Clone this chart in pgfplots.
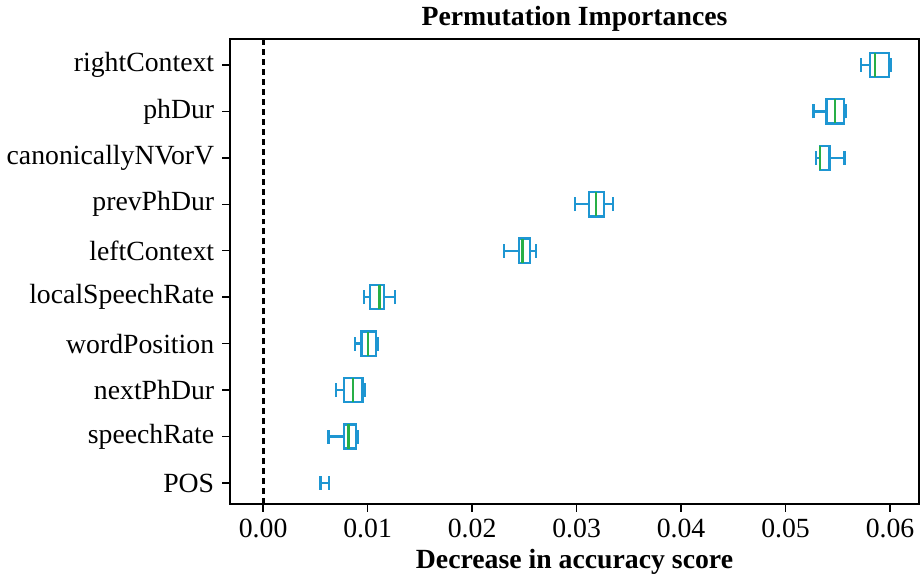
\documentclass[border=0pt]{standalone}
\usepackage{pgfplots}
\pgfplotsset{compat=1.18}
\usepgfplotslibrary{statistics}
\usepackage{fontspec}
\setmainfont{Liberation Serif}
\definecolor{boxblue}{RGB}{30,150,210}
\definecolor{medgreen}{RGB}{40,175,70}
\begin{document}
\begin{tikzpicture}
\begin{axis}[
  scale only axis, width=345pt, height=233pt,
  xmin=-0.00315, xmax=0.06275, ymin=0.55, ymax=10.56,
  xtick={0,0.01,0.02,0.03,0.04,0.05,0.06},
  scaled x ticks=false,
  xticklabel style={/pgf/number format/fixed,/pgf/number format/precision=2,/pgf/number format/fixed zerofill},
  /pgf/number format/assume math mode=true,
  ytick={1,2,3,4,5,6,7,8,9,10},
  yticklabels={POS,speechRate,nextPhDur,wordPosition,localSpeechRate,leftContext,prevPhDur,canonicallyNVorV,phDur,rightContext},
  tick align=outside, tick pos=left, major tick length=4pt,
  axis line style={line width=0.75pt}, tick style={line width=0.75pt, black},
  tick label style={font=\fontsize{13.9}{15}\selectfont},
  yticklabel style={xshift=-0.5pt},
  title={\textbf{Permutation Importances}},
  title style={font=\fontsize{13.9}{15}\selectfont, yshift=-6pt},
  xlabel={\textbf{Decrease in accuracy score}},
  xlabel style={font=\fontsize{13.9}{15}\selectfont, yshift=1pt},
  boxplot/box extend=0.52,
  boxplot/whisker extend=0.3,
  boxplot/every median/.style={draw=medgreen, line width=1.2pt},
  boxplot/every box/.style={draw=boxblue, line width=1.2pt},
  boxplot/every whisker/.style={draw=boxblue, line width=1.2pt},
]
\draw[black, line width=1.4pt, dash pattern=on 3pt off 2pt] (axis cs:0,0.55) -- (axis cs:0,10.56);
\addplot[boxplot prepared={lower whisker=0.0572, lower quartile=0.0581, median=0.05855, upper quartile=0.0599, upper whisker=0.0601, draw position=10}, draw=boxblue] coordinates {};
\addplot[boxplot prepared={lower whisker=0.05266, lower quartile=0.05393, median=0.05475, upper quartile=0.0556, upper whisker=0.0558, draw position=9}, draw=boxblue] coordinates {};
\addplot[boxplot prepared={lower whisker=0.0529, lower quartile=0.05327, median=0.0533, upper quartile=0.0542, upper whisker=0.05562, draw position=8}, draw=boxblue] coordinates {};
\addplot[boxplot prepared={lower whisker=0.02984, lower quartile=0.03117, median=0.03184, upper quartile=0.03264, upper whisker=0.0335, draw position=7}, draw=boxblue] coordinates {};
\addplot[boxplot prepared={lower whisker=0.02305, lower quartile=0.02448, median=0.02483, upper quartile=0.02556, upper whisker=0.02613, draw position=6}, draw=boxblue] coordinates {};
\addplot[boxplot prepared={lower whisker=0.00965, lower quartile=0.01025, median=0.01114, upper quartile=0.01156, upper whisker=0.01264, draw position=5}, draw=boxblue] coordinates {};
\addplot[boxplot prepared={lower whisker=0.00882, lower quartile=0.0094, median=0.01006, upper quartile=0.01079, upper whisker=0.01096, draw position=4}, draw=boxblue] coordinates {};
\addplot[boxplot prepared={lower whisker=0.00695, lower quartile=0.00774, median=0.0086, upper quartile=0.00952, upper whisker=0.0097, draw position=3}, draw=boxblue] coordinates {};
\addplot[boxplot prepared={lower whisker=0.00627, lower quartile=0.00776, median=0.00818, upper quartile=0.00888, upper whisker=0.00907, draw position=2}, draw=boxblue] coordinates {};
\addplot[boxplot prepared={lower whisker=0.0055, lower quartile=0.0063, median=0.0063, upper quartile=0.0063, upper whisker=0.0063, draw position=1}, draw=boxblue, boxplot/every median/.style={draw=boxblue, line width=1.2pt}, boxplot/box extend=0.3] coordinates {};
\end{axis}
\end{tikzpicture}
\end{document}
